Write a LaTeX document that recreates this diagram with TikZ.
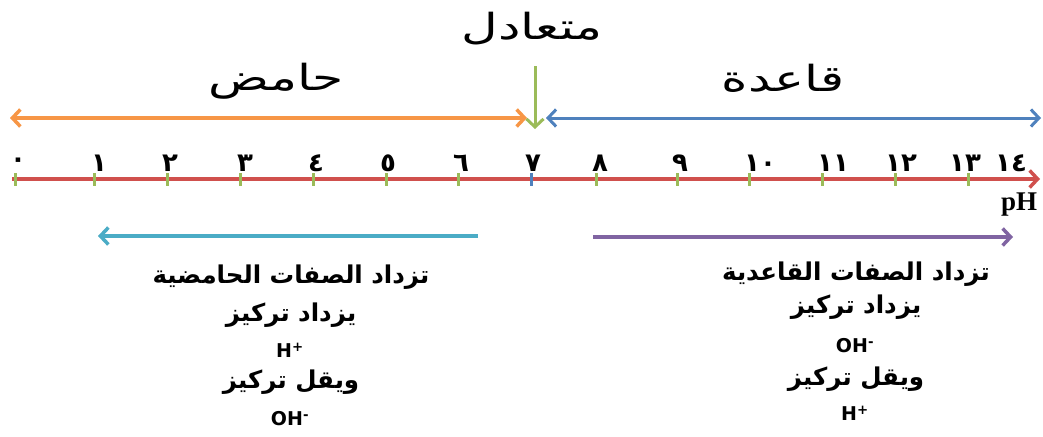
\documentclass[tikz,border=0pt]{standalone}
\usepackage{fontspec}
\usetikzlibrary{arrows.meta}
\TeXXeTstate=1
\newfontfamily\arabicfont[Script=Arabic]{DejaVu Sans}
\newfontfamily\titlefont[Script=Arabic,FakeStretch=1.4]{DejaVu Sans}
\newfontfamily\digitfont{DejaVu Sans}
\newfontfamily\latinfont{DejaVu Sans}
\newfontfamily\serifpH{Liberation Serif}
\definecolor{corange}{HTML}{F79646}
\definecolor{cblue}{HTML}{4F81BD}
\definecolor{cgreen}{HTML}{9BBB59}
\definecolor{cred}{HTML}{D0504D}
\definecolor{ccyan}{HTML}{4BACC6}
\definecolor{cpurple}{HTML}{8064A2}
\tikzset{
  bigarrow/.style={line width=3.5pt},
  titletext/.style={font=\titlefont\fontsize{36}{40}\selectfont, inner sep=0pt},
  bodytext/.style={font=\arabicfont\bfseries\fontsize{24.5}{28}\selectfont, inner sep=0pt},
  iontext/.style={font=\latinfont\bfseries\fontsize{19}{22}\selectfont, inner sep=0pt},
  digit/.style={font=\digitfont\bfseries\fontsize{26}{28}\selectfont, inner sep=0pt},
  tick/.style={cgreen, line width=3pt},
}
\begin{document}
\begin{tikzpicture}[x=1pt,y=-1pt]
\useasboundingbox (0,0) rectangle (1043,436);
% top labels
\node[titletext] (neutral) at (532,29) {\beginR متعادل\endR};
\node[titletext] (acid) at (276,81) {\beginR حامض\endR};
\node[titletext] (base) at (783,78) {\beginR قاعدة\endR};
% upper arrows
\coordinate (oL) at (10,118);
\coordinate (oR) at (527,118);
\coordinate (bL) at (546,118);
\coordinate (bR) at (1041,118);
\coordinate (gT) at (535,66);
\coordinate (gB) at (535,129);
\draw[bigarrow, corange, {Straight Barb[length=8pt,width=17pt,line width=3.5pt]}-{Straight Barb[length=8pt,width=17pt,line width=3.5pt]}] (oL) -- (oR);
\draw[line width=3pt, cblue, {Straight Barb[length=8pt,width=17pt,line width=3pt]}-{Straight Barb[length=8pt,width=17pt,line width=3pt]}] (bL) -- (bR);
\draw[line width=3pt, cgreen, -{Straight Barb[length=8pt,width=17pt,line width=3pt]}] (gT) -- (gB);
% pH axis
\coordinate (aL) at (12,179);
\coordinate (aR) at (1040,179);
\draw[line width=4pt, cred, -{Straight Barb[length=8pt,width=17pt,line width=3.5pt]}] (aL) -- (aR);
\foreach \x in {15,94,167,240,313,386,458,596,677,749,822,895,968}{
  \draw[tick] (\x,173) -- (\x,186);
}
\draw[line width=3pt, cblue] (531,173) -- (531,186);
\node[digit] (d0) at (18,163) {٠};
\node[digit] (d1) at (99,163) {١};
\node[digit] (d2) at (170,163) {٢};
\node[digit] (d3) at (245,163) {٣};
\node[digit] (d4) at (316,163) {٤};
\node[digit] (d5) at (388,163) {٥};
\node[digit] (d6) at (461,163) {٦};
\node[digit] (d7) at (533,163) {٧};
\node[digit] (d8) at (600,163) {٨};
\node[digit] (d9) at (680,163) {٩};
\node[digit] (d10) at (760,163) {١٠};
\node[digit] (d11) at (833,163) {١١};
\node[digit] (d12) at (901,163) {١٢};
\node[digit] (d13) at (965,163) {١٣};
\node[digit] (d14) at (1011,163) {١٤};
\node[font=\serifpH\bfseries\fontsize{27}{30}\selectfont, inner sep=0pt] (pH) at (1019,205) {pH};
% lower arrows
\coordinate (cR) at (478,236);
\coordinate (cL) at (98,236);
\coordinate (pL) at (593,237);
\coordinate (pR) at (1013,237);
\draw[bigarrow, ccyan, -{Straight Barb[length=8pt,width=17pt,line width=3.5pt]}] (cR) -- (cL);
\draw[bigarrow, cpurple, -{Straight Barb[length=8pt,width=17pt,line width=3.5pt]}] (pL) -- (pR);
% left text
\node[bodytext] (l1) at (291,277) {\beginR تزداد الصفات الحامضية\endR};
\node[bodytext] (l2) at (291,315) {\beginR يزداد تركيز\endR};
\node[iontext] (l3) at (290,350) {H\textsuperscript{+}};
\node[bodytext] (l4) at (291,382) {\beginR ويقل تركيز\endR};
\node[iontext] (l5) at (290,419) {OH\textsuperscript{-}};
% right text
\node[bodytext] (r1) at (856,274) {\beginR تزداد الصفات القاعدية\endR};
\node[bodytext] (r2) at (856,307) {\beginR يزداد تركيز\endR};
\node[iontext] (r3) at (855,346) {OH\textsuperscript{-}};
\node[bodytext] (r4) at (856,379) {\beginR ويقل تركيز\endR};
\node[iontext] (r5) at (855,413) {H\textsuperscript{+}};
\end{tikzpicture}
\end{document}
